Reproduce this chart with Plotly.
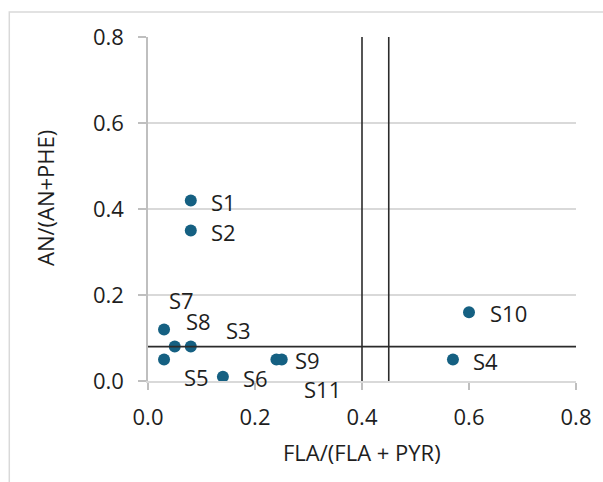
import plotly.graph_objects as go

# Data
samples = ["S1", "S2", "S3", "S4", "S5", "S6", "S7", "S8", "S9", "S10", "S11"]
fla_ratio = [0.08, 0.08, 0.08, 0.57, 0.03, 0.14, 0.03, 0.05, 0.24, 0.60, 0.25]
an_ratio = [0.42, 0.35, 0.08, 0.05, 0.05, 0.01, 0.12, 0.08, 0.05, 0.16, 0.05]
x_thresholds = [0.40, 0.45]
y_threshold = 0.08
x_ticks = [0.0, 0.2, 0.4, 0.6, 0.8]
y_ticks = [0.0, 0.2, 0.4, 0.6, 0.8]

# label offsets in pixels (dx right, dy down) - styling only
label_offsets = {
    "S1": (33, 2), "S2": (33, 1), "S3": (48, -17), "S4": (33, 1),
    "S5": (32, 17), "S6": (33, 1), "S7": (17, -29), "S8": (24, -26),
    "S9": (31, 0), "S10": (39, 1), "S11": (41, 29),
}

FONT = "Open Sans"
FS = 22
TXT = "#1e1e1e"

fig = go.Figure()
fig.add_trace(go.Scatter(
    x=fla_ratio, y=an_ratio, mode="markers",
    marker=dict(size=12, color="#156082"),
    cliponaxis=False, showlegend=False, hoverinfo="x+y",
))

annotations = []
for s, x, y in zip(samples, fla_ratio, an_ratio):
    dx, dy = label_offsets[s]
    annotations.append(dict(
        x=x, y=y, xref="x", yref="y", text=s, showarrow=False,
        xshift=dx, yshift=-dy, xanchor="center", yanchor="middle",
        font=dict(family=FONT, size=FS, color=TXT),
    ))

# axis titles
annotations.append(dict(
    x=0.5, y=0, xref="paper", yref="paper", yshift=-71,
    text="FLA/(FLA + PYR)", showarrow=False, xanchor="center", yanchor="middle",
    font=dict(family=FONT, size=FS, color=TXT),
))
annotations.append(dict(
    x=0, y=0.5, xref="paper", yref="paper", xshift=-103, yshift=11,
    text="AN/(AN+PHE)", showarrow=False, textangle=-90,
    xanchor="center", yanchor="middle",
    font=dict(family=FONT, size=FS, color=TXT),
))

shapes = []
# outer frame
shapes.append(dict(type="rect", xref="paper", yref="paper",
                   x0=(8 - 148) / 432, x1=(620 - 148) / 432,
                   y0=(381 - 500) / 344, y1=(381 - 12) / 344,
                   line=dict(color="#d9d9d9", width=1.5), layer="below"))
shapes.append(dict(type="line", xref="x", yref="y",
                   x0=x_ticks[0], x1=x_ticks[-1], y0=y_threshold, y1=y_threshold,
                   line=dict(color="#2b2b2b", width=1.6)))
for xt in x_thresholds:
    shapes.append(dict(type="line", xref="x", yref="y",
                       x0=xt, x1=xt, y0=y_ticks[0], y1=y_ticks[-1],
                       line=dict(color="#2b2b2b", width=1.6)))

fig.update_layout(
    width=603, height=482,
    margin=dict(l=148, r=23, t=37, b=101),
    paper_bgcolor="white", plot_bgcolor="white",
    font=dict(family=FONT, size=FS, color=TXT),
    annotations=annotations, shapes=shapes,
    xaxis=dict(range=[x_ticks[0], x_ticks[-1]], tickvals=x_ticks, tickformat=".1f",
               showgrid=False, zeroline=False, showline=True,
               linecolor="#d9d9d9", linewidth=1.5,
               ticks="outside", ticklen=7, tickcolor="#bfbfbf", tickwidth=1.5,
               ticklabelstandoff=9,
               tickfont=dict(family=FONT, size=FS, color=TXT)),
    yaxis=dict(range=[y_ticks[0], y_ticks[-1]], tickvals=y_ticks, tickformat=".1f",
               showgrid=True, gridcolor="#d9d9d9", gridwidth=1.5, zeroline=False,
               showline=True, linecolor="#bfbfbf", linewidth=1.5,
               ticks="outside", ticklen=8, tickcolor="#bfbfbf", tickwidth=1.5,
               ticklabelstandoff=10,
               tickfont=dict(family=FONT, size=FS, color=TXT)),
)

fig.write_html("out.html")
